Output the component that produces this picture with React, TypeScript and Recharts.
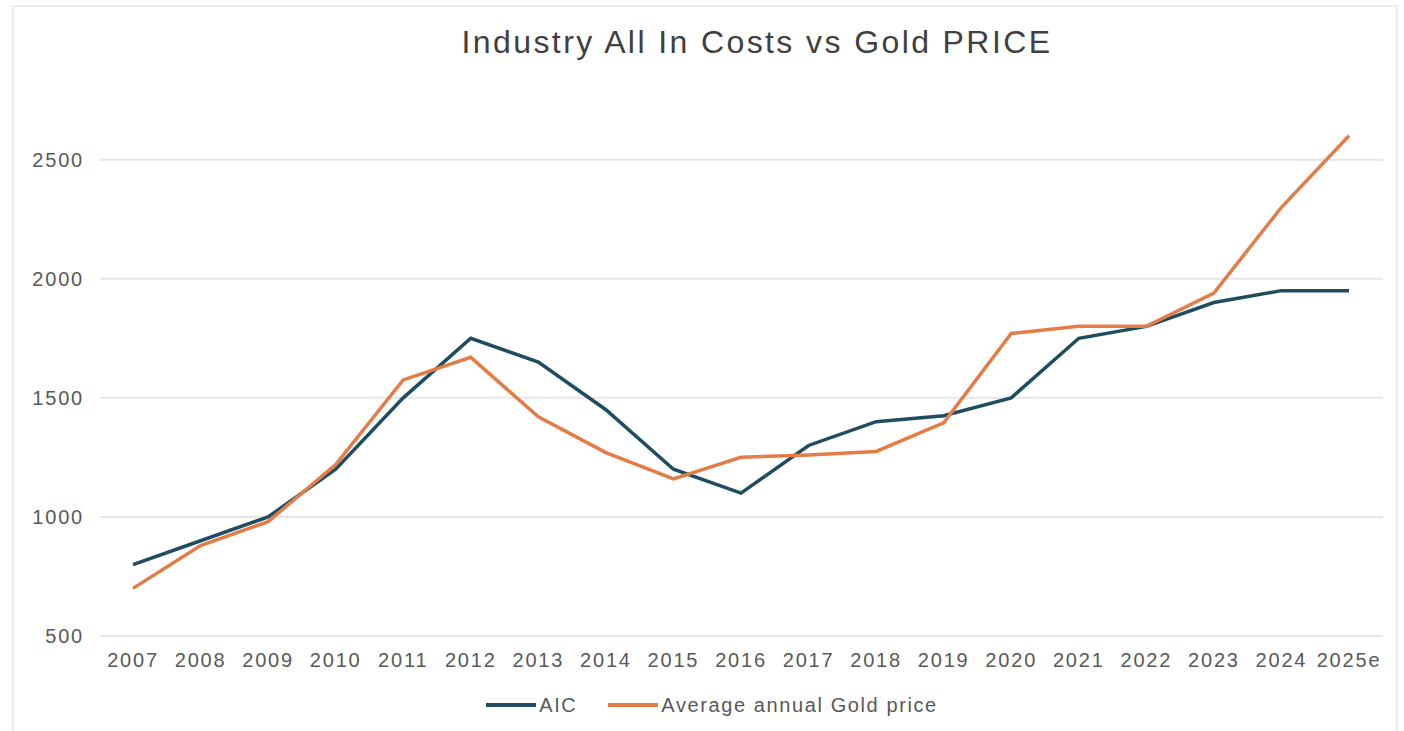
import React from "react";
import { LineChart, Line, XAxis, YAxis, CartesianGrid, Legend } from "recharts";

const years = ["2007","2008","2009","2010","2011","2012","2013","2014","2015","2016","2017","2018","2019","2020","2021","2022","2023","2024","2025e"];
const aic = [800, 900, 1000, 1200, 1500, 1750, 1650, 1450, 1200, 1100, 1300, 1400, 1425, 1500, 1750, 1800, 1900, 1950, 1950];
const gold = [700, 880, 980, 1220, 1575, 1670, 1420, 1270, 1160, 1250, 1260, 1275, 1395, 1770, 1800, 1800, 1940, 2300, 2600];
const yTicks = [500, 1000, 1500, 2000, 2500];

const data = years.map((y, i) => ({ year: y, aic: aic[i], gold: gold[i] }));

const AIC_COLOR = "#1e4d60";
const GOLD_COLOR = "#e37c47";
const TEXT_COLOR = "#595959";
const FONT = "'Liberation Sans', Arial, sans-serif";

const renderLegend = (props: any) => {
  const { payload } = props;
  return (
    <div style={{ display: "flex", justifyContent: "center", alignItems: "center", fontFamily: FONT, fontSize: 20, letterSpacing: 1.6, color: TEXT_COLOR, height: 24 }}>
      {payload.map((p: any, i: number) => (
        <div key={i} style={{ display: "flex", alignItems: "center", marginRight: i === 0 ? 30 : 0 }}>
          <svg width={52} height={10} style={{ marginRight: 2 }}>
            <line x1={1} y1={5} x2={51} y2={5} stroke={p.color} strokeWidth={4} />
          </svg>
          <span>{p.value}</span>
        </div>
      ))}
    </div>
  );
};

export default function App() {
  return (
    <div style={{ position: "absolute", left: 0, top: 0, width: 1404, height: 731, background: "#ffffff", overflow: "hidden" }}>
      <div style={{ position: "absolute", left: 12, top: 5, width: 1386, height: 740, border: "2px solid #ececec", boxSizing: "border-box" }} />
      <div style={{ position: "absolute", left: 0, top: 24, width: 1514, textAlign: "center", fontFamily: FONT, fontSize: 32, letterSpacing: 2.4, color: "#404040" }}>
        Industry All In Costs vs Gold PRICE
      </div>
      <div style={{ position: "absolute", left: 0, top: 0 }}>
        <LineChart width={1404} height={731} data={data} margin={{ top: 112, right: 21, bottom: 31, left: 40 }}>
          <CartesianGrid vertical={false} horizontalValues={yTicks} stroke="#e6e6e6" strokeWidth={2} />
          <XAxis
            dataKey="year"
            padding={{ left: 33, right: 34 }}
            axisLine={{ stroke: "#e6e6e6", strokeWidth: 2 }}
            tickLine={false}
            tickSize={0}
            tickMargin={17}
            height={40}
            interval={0}
            tick={{ fill: TEXT_COLOR, fontSize: 20, fontFamily: FONT, letterSpacing: 1.8 }}
          />
          <YAxis
            domain={[500, 2700]}
            ticks={yTicks}
            axisLine={false}
            tickLine={false}
            tickSize={0}
            tickMargin={16}
            width={60}
            allowDataOverflow
            tick={{ fill: TEXT_COLOR, fontSize: 20, fontFamily: FONT, letterSpacing: 1.8 }}
          />
          <Legend verticalAlign="bottom" content={renderLegend} wrapperStyle={{ bottom: 14 }} />
          <Line type="linear" dataKey="aic" name="AIC" stroke={AIC_COLOR} strokeWidth={3.5} dot={false} isAnimationActive={false} />
          <Line type="linear" dataKey="gold" name="Average annual Gold price" stroke={GOLD_COLOR} strokeWidth={3.5} dot={false} isAnimationActive={false} />
        </LineChart>
      </div>
    </div>
  );
}
